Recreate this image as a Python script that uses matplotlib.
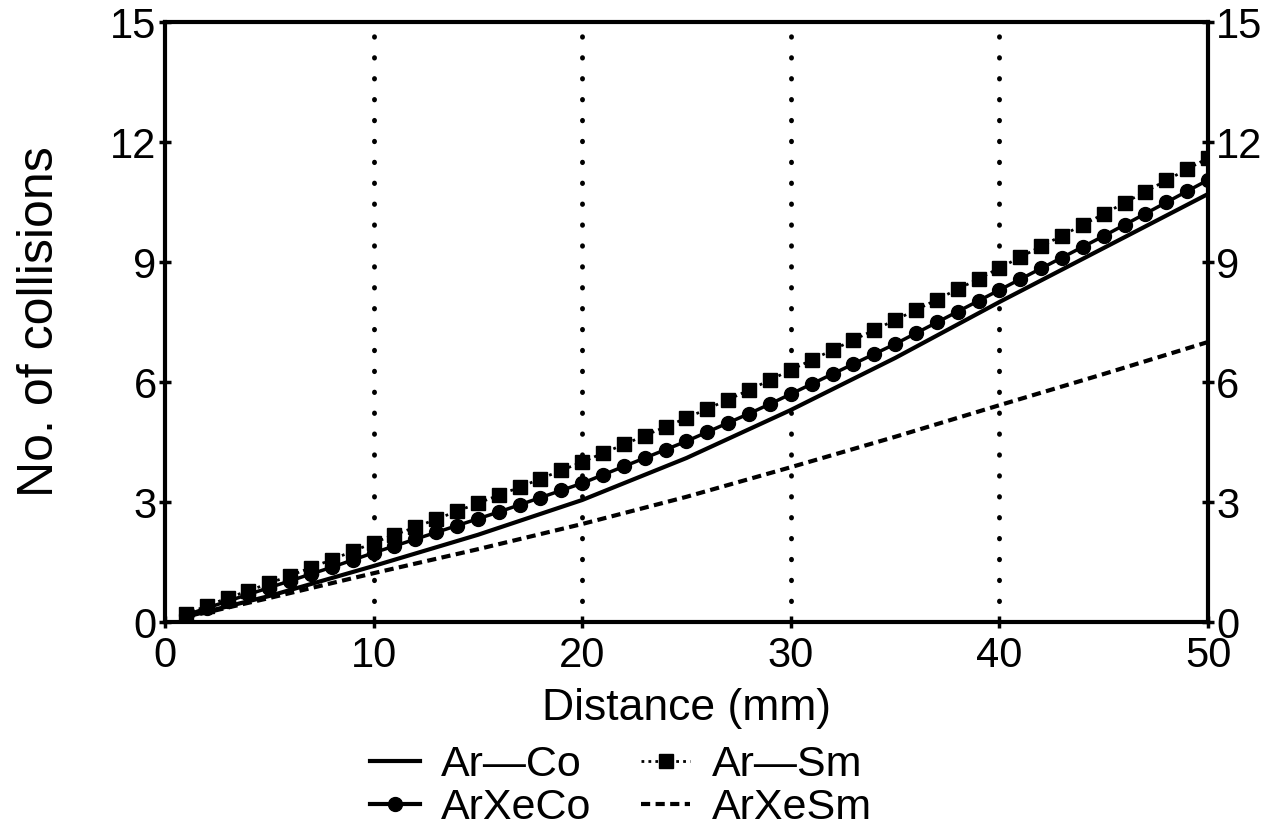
import matplotlib
matplotlib.use("Agg")
import matplotlib.pyplot as plt
from matplotlib.lines import Line2D

plt.rcParams['font.family'] = ['Liberation Sans', 'DejaVu Sans']

# ---- data ----
x_marks = list(range(1, 51))
ar_sm = [0.20, 0.40, 0.60, 0.78, 0.97, 1.16, 1.36, 1.56, 1.77, 1.98,
         2.18, 2.37, 2.57, 2.77, 2.97, 3.17, 3.37, 3.58, 3.79, 4.00,
         4.22, 4.44, 4.66, 4.88, 5.10, 5.33, 5.56, 5.80, 6.05, 6.30,
         6.55, 6.80, 7.05, 7.30, 7.55, 7.80, 8.06, 8.32, 8.58, 8.85,
         9.12, 9.39, 9.66, 9.93, 10.20, 10.48, 10.76, 11.04, 11.32, 11.60]
arxeco = [0.17, 0.35, 0.52, 0.69, 0.86, 1.03, 1.20, 1.37, 1.55, 1.73,
          1.90, 2.07, 2.24, 2.41, 2.58, 2.75, 2.93, 3.11, 3.29, 3.47,
          3.68, 3.89, 4.10, 4.31, 4.52, 4.75, 4.98, 5.21, 5.45, 5.70,
          5.95, 6.20, 6.45, 6.70, 6.95, 7.22, 7.49, 7.76, 8.03, 8.30,
          8.57, 8.84, 9.11, 9.38, 9.65, 9.93, 10.21, 10.49, 10.77, 11.05]
x_line = [1, 5, 10, 15, 20, 25, 30, 35, 40, 45, 50]
ar_co = [0.13, 0.65, 1.40, 2.18, 3.05, 4.10, 5.30, 6.60, 8.00, 9.35, 10.70]
arxesm = [0.12, 0.60, 1.22, 1.82, 2.45, 3.13, 3.87, 4.63, 5.42, 6.20, 7.00]

xticks = [0, 10, 20, 30, 40, 50]
yticks = [0, 3, 6, 9, 12, 15]
labels = ["Ar\u2014Co", "ArXeCo", "Ar\u2014Sm", "ArXeSm"]

TICK_FS = 30
XLAB_FS = 32
YLAB_FS = 36
LEG_FS = 31

fig = plt.figure(figsize=(12.76, 8.31), dpi=100)
ax = fig.add_axes([0.1293, 0.2515, 0.8174, 0.722])

for g in [10, 20, 30, 40]:
    ax.axvline(g, color='black', lw=3.5, linestyle=(0, (0.1, 4.2)),
               dash_capstyle='round', zorder=1)

dash_style = (0, (2.2, 1.3))
sq_style = (0, (1, 1.5))
ax.plot(x_line, arxesm, color='black', lw=3, linestyle=dash_style, zorder=3)
ax.plot(x_line, ar_co, color='black', lw=3, linestyle='-', zorder=3)
ax.plot(x_marks, arxeco, color='black', lw=2.5, marker='o', markersize=10, zorder=4)
ax.plot(x_marks, ar_sm, color='black', lw=2, linestyle=sq_style, marker='s',
        markersize=9.5, zorder=4)

ax.set_xlim(0, 50)
ax.set_ylim(0, 15)
ax.set_xticks(xticks)
ax.set_yticks(yticks)
for s in ax.spines.values():
    s.set_linewidth(3)
ax.tick_params(axis='both', direction='inout', length=8, width=2.5, labelsize=TICK_FS)
ax.tick_params(axis='x', pad=6)
ax.tick_params(axis='y', pad=2, right=True, labelright=True)

ax.set_xlabel("Distance (mm)", fontsize=XLAB_FS)
ax.xaxis.set_label_coords(0.5, -0.11)
ax.set_ylabel("No. of collisions", fontsize=YLAB_FS)
ax.yaxis.set_label_coords(-0.098, 0.5)

handles = [
    Line2D([], [], color='black', lw=3),
    Line2D([], [], color='black', lw=3, marker='o', markersize=10),
    Line2D([], [], color='black', lw=2, linestyle=sq_style, marker='s', markersize=9.5),
    Line2D([], [], color='black', lw=3, linestyle=dash_style),
]
fig.legend(handles, labels, ncol=2, frameon=False, fontsize=LEG_FS,
           loc='upper left', bbox_to_anchor=(370 / 1276, 0.103),
           borderpad=0, borderaxespad=0,
           handlelength=1.15, columnspacing=1.15, labelspacing=0.06, handletextpad=0.5)

fig.savefig("out.png", dpi=100)
